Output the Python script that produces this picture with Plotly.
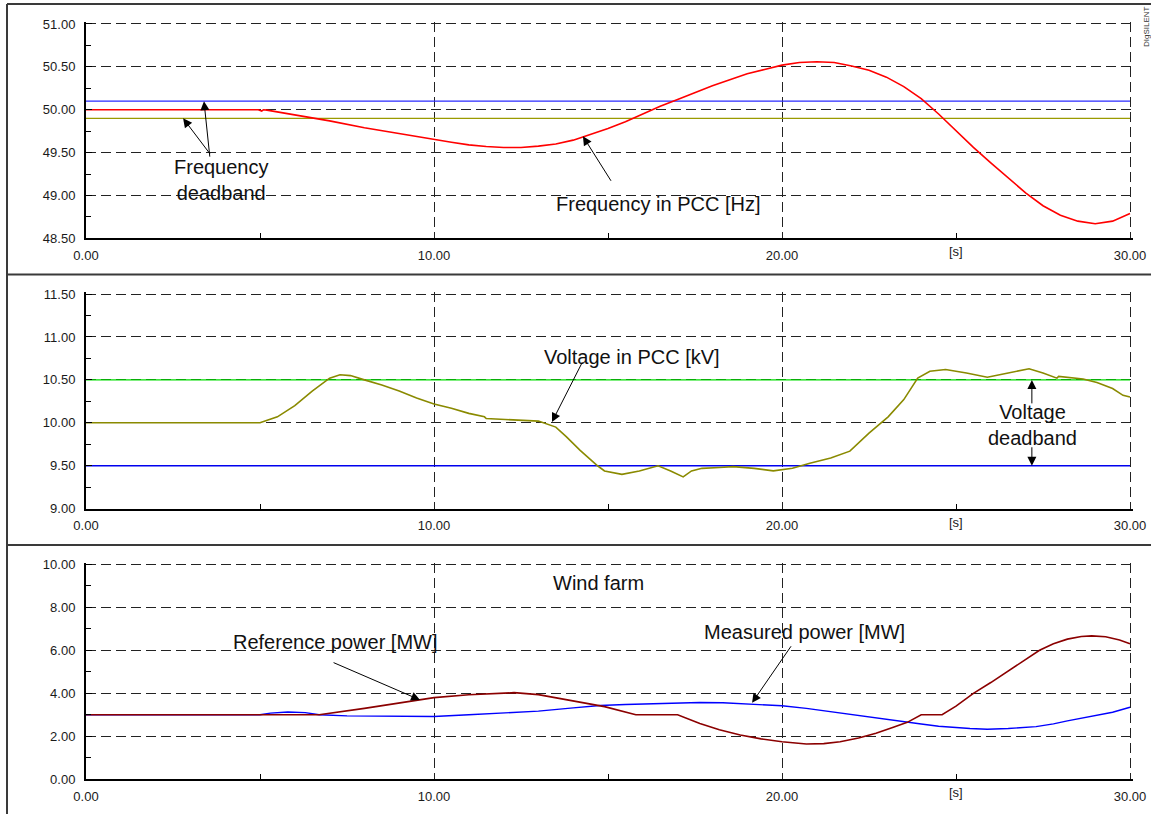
import plotly.graph_objects as go

# ---------------- data ----------------
# Frequency in PCC [Hz]
t_freq = [0, 4.95, 5.05, 5.1, 5.2, 6, 7, 8, 9, 10, 10.5, 11, 11.5, 12, 12.5, 13, 13.5,
          14, 14.5, 15, 15.5, 16, 16.5, 17, 17.5, 18, 18.5, 19, 19.5, 20, 20.5, 21,
          21.5, 22, 22.5, 23, 23.5, 24, 24.5, 25, 25.5, 26, 26.5, 27, 27.5, 28, 28.5,
          29, 29.5, 30]
freq = [50.0, 50.0, 49.985, 50.0, 49.995, 49.94, 49.87, 49.79, 49.72, 49.65, 49.62,
        49.59, 49.57, 49.56, 49.56, 49.575, 49.60, 49.645, 49.71, 49.78, 49.86, 49.95,
        50.04, 50.12, 50.20, 50.28, 50.35, 50.42, 50.47, 50.52, 50.55, 50.56, 50.55,
        50.51, 50.46, 50.38, 50.27, 50.13, 49.95, 49.75, 49.56, 49.38, 49.20, 49.03,
        48.88, 48.77, 48.70, 48.67, 48.70, 48.79]
freq_band_hi = 50.10
freq_band_lo = 49.90

# Voltage in PCC [kV]
t_volt = [0, 5.0, 5.5, 6.0, 6.5, 7.0, 7.3, 7.6, 8.0, 8.5, 9.0, 9.5, 10.0, 10.5, 11.0,
          11.45, 11.5, 12.0, 12.5, 13.0, 13.5, 13.8, 14.2, 14.7, 14.9, 15.4, 15.9, 16.44,
          16.8, 17.16, 17.4, 17.7, 18.2, 18.6, 19.2, 19.75, 20.3, 20.8, 21.4, 21.95,
          22.5, 23.05, 23.5, 23.9, 24.25, 24.7, 25.3, 25.9, 26.5, 27.1, 27.5, 27.9,
          27.95, 28.65, 29.05, 29.5, 29.8, 30]
volt = [10.0, 10.0, 10.07, 10.2, 10.37, 10.52, 10.56, 10.55, 10.5, 10.44, 10.37, 10.29,
        10.22, 10.17, 10.11, 10.07, 10.05, 10.04, 10.035, 10.02, 9.95, 9.84, 9.68, 9.50,
        9.44, 9.40, 9.44, 9.50, 9.44, 9.37, 9.44, 9.47, 9.48, 9.49, 9.47, 9.44, 9.47,
        9.53, 9.59, 9.67, 9.88, 10.07, 10.27, 10.52, 10.60, 10.62, 10.58, 10.53, 10.58,
        10.63, 10.58, 10.52, 10.54, 10.51, 10.47, 10.40, 10.32, 10.30]
volt_band_hi = 10.50
volt_band_lo = 9.50

# Wind farm power [MW]
t_pref = [0, 6.7, 8.0, 9.5, 10.0, 11.0, 12.3, 13.0, 13.5, 14.0, 14.9, 15.8, 17.0, 17.64,
          18.2, 18.8, 19.4, 20.0, 20.7, 21.2, 21.67, 22.2, 22.7, 23.2, 23.6, 24.0, 24.6,
          25.0, 25.5, 26.0, 26.5, 27.0, 27.4, 27.8, 28.2, 28.6, 28.9, 29.3, 29.7, 30]
p_ref = [3.0, 3.0, 3.3, 3.69, 3.8, 3.93, 4.03, 3.94, 3.80, 3.64, 3.38, 3.0, 3.0, 2.6,
         2.3, 2.06, 1.88, 1.75, 1.64, 1.66, 1.75, 1.92, 2.14, 2.42, 2.65, 3.0, 3.0, 3.4,
         4.0, 4.5, 5.05, 5.6, 6.0, 6.3, 6.52, 6.64, 6.67, 6.63, 6.48, 6.31]

t_pmeas = [0, 5.0, 5.3, 5.8, 6.3, 6.7, 7.5, 8.5, 9.5, 10.0, 11, 12, 13, 14, 14.77, 15.5,
           16.2, 17.0, 17.64, 18.3, 19.08, 20.0, 20.7, 21.47, 22.2, 23.0, 23.4, 24.0,
           24.5, 24.8, 25.4, 25.9, 26.5, 27.3, 27.8, 28.2, 29.0, 29.5, 30]
p_meas = [3.0, 3.0, 3.08, 3.13, 3.1, 3.0, 2.95, 2.93, 2.92, 2.92, 3.0, 3.08, 3.17, 3.32,
          3.43, 3.48, 3.52, 3.55, 3.57, 3.56, 3.51, 3.42, 3.3, 3.13, 2.97, 2.77, 2.67,
          2.57, 2.47, 2.43, 2.36, 2.33, 2.36, 2.45, 2.58, 2.72, 2.95, 3.12, 3.35]

x_ticks = [0, 10, 20, 30]
x_ticktext = ["0.00", "10.00", "20.00", "30.00"]
x_minor = [5, 15, 25]

# ---------------- layout geometry (pixels) ----------------
W, H = 1151, 814
FONT = "Arial, Liberation Sans, sans-serif"
X_LEFT, PX_PER_S = 86, 34.8
X_MAX = 30.1


def xdom():
    return [X_LEFT / W, (X_LEFT + X_MAX * PX_PER_S) / W]


def ydom(bottom_px, px_per_unit, span):
    top_px = bottom_px - span * px_per_unit
    return [1 - bottom_px / H, 1 - top_px / H]


panels = [
    # (y range, bottom px, px per unit, major step)
    ([48.5, 51.02], 238.3, 85.72, 0.5),
    ([9.0, 11.52], 508.7, 85.88, 0.5),
    ([0.0, 10.08], 779.3, 21.5, 2.0),
]

fig = go.Figure()

GRID = dict(showgrid=True, gridcolor="#222222", gridwidth=1, griddash="10px,5px")
TICKFONT = dict(family=FONT, size=13, color="#1a1a1a")

layout = dict(width=W, height=H, margin=dict(l=0, r=0, t=0, b=0, autoexpand=False),
              paper_bgcolor="white", plot_bgcolor="white", showlegend=False)

for i, (yr, bpx, ppu, step) in enumerate(panels, start=1):
    sx = "" if i == 1 else str(i)
    layout["xaxis" + sx] = dict(
        domain=xdom(), range=[0, X_MAX], anchor="y" + sx, automargin=False,
        tickmode="array", tickvals=x_ticks, ticktext=x_ticktext,
        ticks="", tickfont=TICKFONT, ticklabelstandoff=4,
        showline=True, linecolor="black", linewidth=2, zeroline=False,
        minor=dict(tickmode="array", tickvals=x_minor, ticks="inside",
                   ticklen=5, tickcolor="black", showgrid=False),
        **GRID)
    layout["yaxis" + sx] = dict(
        domain=ydom(bpx, ppu, yr[1] - yr[0]), range=yr, anchor="x" + sx,
        automargin=False,
        tick0=yr[0], dtick=step, tickformat=".2f",
        ticks="inside", ticklen=6, tickcolor="black",
        tickfont=TICKFONT, ticklabelstandoff=6,
        showline=True, linecolor="black", linewidth=2, zeroline=False,
        minor=dict(dtick=step / 2, ticks="inside", ticklen=5, tickcolor="black",
                   showgrid=False),
        **GRID)

fig.update_layout(**layout)


def hline(value, color, xa, ya, width=1.3):
    fig.add_trace(go.Scatter(x=[0, 30], y=[value, value], mode="lines",
                             line=dict(color=color, width=width),
                             xaxis=xa, yaxis=ya, hoverinfo="skip"))


# Panel 1: frequency
hline(freq_band_hi, "#2a2aff", "x", "y")
hline(freq_band_lo, "#9a9a00", "x", "y")
fig.add_trace(go.Scatter(x=t_freq, y=freq, mode="lines", line=dict(color="#ff0000", width=1.6),
                         xaxis="x", yaxis="y"))

# Panel 2: voltage
hline(volt_band_hi, "#00dd00", "x2", "y2")
hline(volt_band_lo, "#0000ee", "x2", "y2")
fig.add_trace(go.Scatter(x=t_volt, y=volt, mode="lines", line=dict(color="#8a8a00", width=1.6),
                         xaxis="x2", yaxis="y2"))

# Panel 3: wind farm power
fig.add_trace(go.Scatter(x=t_pmeas, y=p_meas, mode="lines", line=dict(color="#0000ff", width=1.4),
                         xaxis="x3", yaxis="y3"))
fig.add_trace(go.Scatter(x=t_pref, y=p_ref, mode="lines", line=dict(color="#8b0000", width=1.6),
                         xaxis="x3", yaxis="y3"))

# ---------------- annotations ----------------
LABEL = dict(family=FONT, size=20, color="#111111")


def label(text, x, y, xa, ya):
    fig.add_annotation(text=text, x=x, y=y, xref=xa, yref=ya, showarrow=False,
                       font=LABEL, xanchor="center", yanchor="middle", align="center")


def arrow(x, y, ax, ay, xa, ya):
    fig.add_annotation(text="", x=x, y=y, xref=xa, yref=ya, ax=ax, ay=ay,
                       showarrow=True, arrowhead=2, arrowsize=1.8, arrowwidth=1,
                       arrowcolor="black")


label("Frequency<br>deadband", 3.89, 49.18, "x", "y")
arrow(3.39, freq_band_hi, 6, 57, "x", "y")
arrow(2.79, freq_band_lo, 28, 37, "x", "y")
label("Frequency in PCC [Hz]", 16.45, 48.9, "x", "y")
arrow(14.28, 49.69, 29, 46, "x", "y")

label("Voltage in PCC [kV]", 15.68, 10.77, "x2", "y2")
arrow(13.39, 10.01, 31, -61, "x2", "y2")
label("Voltage<br>deadband", 27.2, 9.98, "x2", "y2")
arrow(27.18, volt_band_hi, 0, 25, "x2", "y2")
arrow(27.18, volt_band_lo, 0, -20, "x2", "y2")

label("Wind farm", 14.74, 9.13, "x3", "y3")
label("Reference power [MW]", 7.16, 6.39, "x3", "y3")
arrow(9.6, 3.69, -88, -38, "x3", "y3")
label("Measured power [MW]", 20.65, 6.85, "x3", "y3")
arrow(19.14, 3.56, 40, -58, "x3", "y3")

# time-unit label on each x axis
for sx in ["", "2", "3"]:
    fig.add_annotation(text="[s]", x=25, xref="x" + sx, y=0, yref="y" + sx + " domain",
                       yanchor="top", yshift=-4, showarrow=False, font=TICKFONT)

# logo text at the top right corner
fig.add_annotation(text="DIgSILENT", x=1146 / W, y=1 - 27 / H, xref="paper", yref="paper",
                   xanchor="center", yanchor="middle",
                   textangle=-90, showarrow=False,
                   font=dict(family=FONT, size=8, color="#333333"))

# ---------------- panel frames ----------------
FRAME = dict(color="#3a3a3a", width=2)
for y_px in [4, 274.5, 545]:
    fig.add_shape(type="line", xref="paper", yref="paper", x0=7 / W, x1=1,
                  y0=1 - y_px / H, y1=1 - y_px / H, line=FRAME)
fig.add_shape(type="line", xref="paper", yref="paper", x0=7 / W, x1=7 / W,
              y0=0, y1=1 - 4 / H, line=FRAME)

fig.write_html("out.html")
